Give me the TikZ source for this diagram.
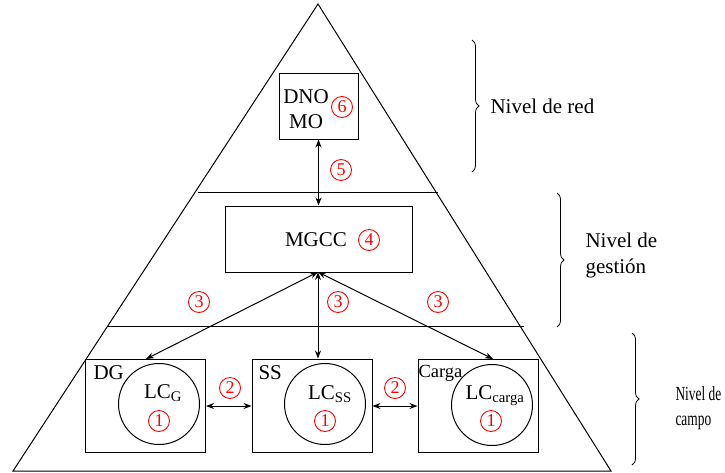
\documentclass[tikz,border=0pt]{standalone}
\usepackage{graphicx}
\usepackage{fontspec}
\setmainfont{Liberation Serif}
\usetikzlibrary{arrows.meta,decorations.pathreplacing}
\newcommand{\narrow}[1]{\scalebox{0.67}[1]{#1}}
\begin{document}
\begin{tikzpicture}[x=1pt,y=-1pt,
  line width=1pt,
  txt/.style={font=\fontsize{21}{23}\selectfont, inner sep=0pt},
  num/.style={circle, draw=red, text=red, line width=0.9pt, inner sep=0pt,
    minimum size=21pt, font=\fontsize{18}{18}\selectfont},
  blk/.style={draw, rectangle, inner sep=0pt},
  lc/.style={draw, circle, minimum size=81pt, inner sep=0pt},
  link/.style={{Stealth[length=8pt,width=6pt]}-{Stealth[length=8pt,width=6pt]}},
  brc/.style={decorate, decoration={brace, amplitude=7pt}, line width=0.8pt}
]
\useasboundingbox (0,0) rectangle (725,472);

% pyramid and level separators
\coordinate (apex) at (318,4);
\coordinate (bl) at (13,471);
\coordinate (br) at (611,471);
\draw (apex) -- (bl) -- (br) -- cycle;
\coordinate (s1l) at (198,192);
\coordinate (s1r) at (438,192);
\coordinate (s2l) at (107,326);
\coordinate (s2r) at (524,326);
\draw (s1l) -- (s1r);
\draw (s2l) -- (s2r);

% network level
\node[blk, minimum width=79pt, minimum height=66pt] (dno) at (318.5,106) {};
\node[txt] (dnot) at (306,97) {DNO};
\node[txt] (mot) at (306,122) {MO};
\node[num] (n6) at (342,107) {6};
\node[num] (n5) at (341,170) {5};

% management level
\node[blk, minimum width=187pt, minimum height=66pt] (mgcc) at (318.5,239) {};
\node[txt] (mgcct) at (316,240) {MGCC};
\node[num] (n4) at (369,240) {4};

% field level
\node[blk, minimum width=120pt, minimum height=93pt] (dg) at (145.5,405.5) {};
\node[blk, minimum width=120pt, minimum height=93pt] (ss) at (312,405.5) {};
\node[blk, minimum width=120pt, minimum height=93pt] (ca) at (478,405.5) {};
\node[lc] (cdg) at (159,404) {};
\node[lc] (css) at (325,404) {};
\node[lc] (cca) at (492,405) {};

\node[txt, anchor=west] (dgt) at (93,373) {DG};
\node[txt, anchor=west] (sst) at (258,373) {SS};
\node[txt, anchor=west, font=\fontsize{18.5}{20}\selectfont] (cat) at (418,373) {Carga};

\node[txt] (lcg) at (163,393) {LC\textsubscript{G}};
\node[txt] (lcss) at (330,394) {LC\textsubscript{SS}};
\node[txt] (lcca) at (495,396) {LC\textsubscript{carga}};
\node[num] (n1a) at (159,421) {1};
\node[num] (n1b) at (325,421) {1};
\node[num] (n1c) at (491,421) {1};

\node[num] (n2a) at (230,388) {2};
\node[num] (n2b) at (395,388) {2};
\node[num] (n3a) at (199,302) {3};
\node[num] (n3b) at (338,302) {3};
\node[num] (n3c) at (438,302) {3};

% communication links
\draw[link] (dno.south) -- (mgcc.north);
\coordinate (hub) at (318,272);
\coordinate (dgtop) at (146,359);
\coordinate (catop) at (493,359);
\draw[link] (hub) -- (dgtop);
\draw[link] (hub) -- (ss.north -| hub);
\draw[link] (hub) -- (catop);
\draw[link] (dg.east |- 0,406) -- (ss.west |- 0,406);
\draw[link] (ss.east |- 0,406) -- (ca.west |- 0,406);

% level braces
\coordinate (b1t) at (472,40);
\coordinate (b1b) at (472,172);
\draw[brc] (b1t) -- (b1b);
\node[txt, anchor=west] (lv1) at (490,106) {Nivel de red};

\coordinate (b2t) at (557,193);
\coordinate (b2b) at (557,327);
\draw[brc] (b2t) -- (b2b);
\node[txt, anchor=west, align=left, font=\fontsize{21}{26}\selectfont] (lv2) at (585,255) {Nivel de\\gestión};

\coordinate (b3t) at (632,333);
\coordinate (b3b) at (632,465);
\draw[brc] (b3t) -- (b3b);
\node[txt, anchor=west, align=left, font=\fontsize{20}{25}\selectfont] (lv3) at (675,408) {\narrow{Nivel de}\\\narrow{campo}};
\end{tikzpicture}
\end{document}
